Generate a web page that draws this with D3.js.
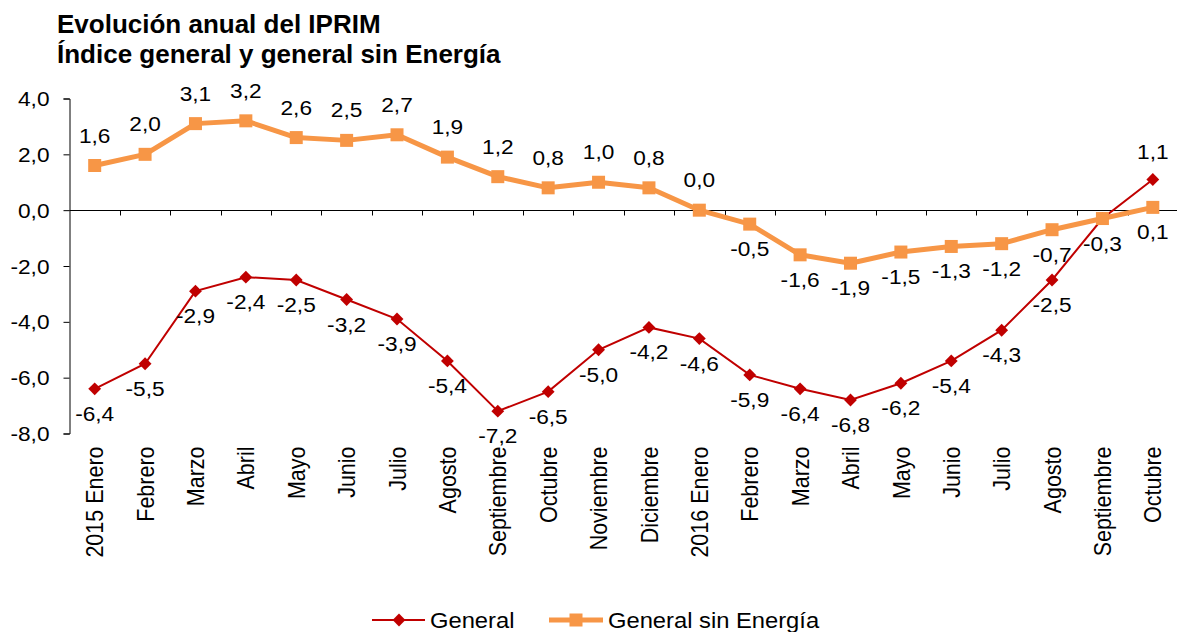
<!DOCTYPE html>
<html>
<head>
<meta charset="utf-8">
<script src="https://cdn.jsdelivr.net/npm/d3@7"></script>
<style>
  body { margin: 0; background: #fff; }
  svg { display: block; font-family: Arial, "Liberation Sans", sans-serif; }
</style>
</head>
<body>
<svg id="chart" width="1177" height="632"></svg>
<script>
const categories = ['2015 Enero', 'Febrero', 'Marzo', 'Abril', 'Mayo', 'Junio', 'Julio', 'Agosto',
  'Septiembre', 'Octubre', 'Noviembre', 'Diciembre', '2016 Enero', 'Febrero', 'Marzo', 'Abril',
  'Mayo', 'Junio', 'Julio', 'Agosto', 'Septiembre', 'Octubre'];
const general = [-6.4, -5.5, -2.9, -2.4, -2.5, -3.2, -3.9, -5.4, -7.2, -6.5, -5.0, -4.2,
  -4.6, -5.9, -6.4, -6.8, -6.2, -5.4, -4.3, -2.5, -0.3, 1.1];
const sinEnergia = [1.6, 2.0, 3.1, 3.2, 2.6, 2.5, 2.7, 1.9, 1.2, 0.8, 1.0, 0.8,
  0.0, -0.5, -1.6, -1.9, -1.5, -1.3, -1.2, -0.7, -0.3, 0.1];
const yTicks = [-8, -6, -4, -2, 0, 2, 4];
const titleLines = ['Evolución anual del IPRIM', 'Índice general y general sin Energía'];

const red = '#c00000', orange = '#f79646';
const fmt = d3.formatLocale({decimal: ',', thousands: '.', grouping: [3], currency: ['', '€'], minus: '-'}).format('.1f');

const svg = d3.select('#chart');
const plotLeft = 69.5, plotRight = 1178, plotTop = 98.5, plotBottom = 433.5;
const stretch = 1.08; // text in the original is a little wider than plain Arial

const x = d3.scaleBand().domain(d3.range(categories.length)).range([plotLeft, plotRight]);
const y = d3.scaleLinear().domain([-8, 4]).range([plotBottom, plotTop]);
const cx = i => x(i) + x.bandwidth() / 2;

// Title
svg.append('g').selectAll('text').data(titleLines).enter().append('text')
  .attr('transform', (d, i) => `translate(57,${33 + i * 30}) scale(1.04,1)`)
  .attr('font-size', 25).attr('font-weight', 'bold').text(d => d);

// Y axis
const yAxis = svg.append('g')
  .attr('transform', `translate(${plotLeft},0)`)
  .call(d3.axisLeft(y).tickValues(yTicks).tickSize(6).tickFormat(fmt));
yAxis.selectAll('text')
  .attr('font-size', 21).attr('fill', '#000')
  .attr('x', null).attr('dy', null)
  .attr('transform', `translate(-20,7) scale(${stretch},1)`);
yAxis.select('.domain').attr('stroke', '#000');
yAxis.selectAll('line').attr('stroke', '#000');

// Zero line with tick marks at the category boundaries
const zeroAxis = svg.append('g').attr('transform', `translate(0,${Math.round(y(0)) + 0.5})`);
zeroAxis.append('line').attr('x1', plotLeft).attr('x2', plotRight).attr('stroke', '#000');
zeroAxis.selectAll('line.tick').data(d3.range(1, categories.length)).enter().append('line')
  .attr('class', 'tick')
  .attr('x1', i => Math.round(x(i)) + 0.5).attr('x2', i => Math.round(x(i)) + 0.5)
  .attr('y1', 0).attr('y2', 5).attr('stroke', '#000');

// Category labels
const xAxis = svg.append('g')
  .attr('transform', `translate(0,${plotBottom + 13})`)
  .call(d3.axisBottom(x).tickSize(0).tickFormat(i => categories[i]));
xAxis.select('.domain').remove();
xAxis.selectAll('text')
  .attr('font-size', 21.5).attr('fill', '#000')
  .attr('text-anchor', 'end')
  .attr('y', null).attr('dy', null)
  .attr('transform', `scale(${stretch},1) rotate(-90) translate(0,8)`);

// Lines
const line = d3.line().x((d, i) => cx(i)).y(d => y(d));

svg.append('path').datum(sinEnergia)
  .attr('d', line).attr('fill', 'none').attr('stroke', orange).attr('stroke-width', 5)
  .attr('stroke-linejoin', 'round');
svg.append('path').datum(general)
  .attr('d', line).attr('fill', 'none').attr('stroke', red).attr('stroke-width', 2);

// Markers
const diamond = d3.symbol().type(d3.symbolDiamond2).size(105);
svg.append('g').selectAll('path').data(general).enter().append('path')
  .attr('d', diamond).attr('fill', red)
  .attr('transform', (d, i) => `translate(${cx(i)},${y(d)})`);

svg.append('g').selectAll('rect').data(sinEnergia).enter().append('rect')
  .attr('x', (d, i) => cx(i) - 6.5).attr('y', d => y(d) - 6.5)
  .attr('width', 13).attr('height', 13).attr('fill', orange);

// Data labels
const labelAt = (sel, px, py) => sel
  .attr('transform', (d, i) => `translate(${px(d, i)},${py(d, i)}) scale(${stretch},1)`)
  .text(d => fmt(d));
const labels = svg.append('g').attr('font-size', 21).attr('text-anchor', 'middle').attr('fill', '#000');
labelAt(labels.selectAll('text.g').data(general).enter().append('text').attr('class', 'g'),
  (d, i) => cx(i),
  (d, i) => i === categories.length - 1 ? y(d) - 20 : y(d) + 32);
// where both series share a value the two labels sit on top of each other: draw it once
const sinIdx = d3.range(sinEnergia.length).filter(i => !(i >= 13 && sinEnergia[i] === general[i]));
labelAt(labels.selectAll('text.s').data(sinIdx.map(i => sinEnergia[i])).enter().append('text').attr('class', 's'),
  (d, k) => cx(sinIdx[k]),
  (d, k) => sinIdx[k] < 13 ? y(d) - 23 : y(d) + 32);

// Legend
const legend = svg.append('g').attr('transform', 'translate(0,620)');
legend.append('line').attr('x1', 372).attr('x2', 425).attr('stroke', red).attr('stroke-width', 2);
legend.append('path').attr('d', diamond).attr('fill', red).attr('transform', 'translate(399,0)');
legend.append('text').attr('transform', `translate(430,8) scale(${stretch},1)`).attr('font-size', 22).text('General');
legend.append('line').attr('x1', 549).attr('x2', 603).attr('stroke', orange).attr('stroke-width', 5);
legend.append('rect').attr('x', 569.5).attr('y', -6.5).attr('width', 13).attr('height', 13).attr('fill', orange);
legend.append('text').attr('transform', `translate(608,8) scale(${stretch},1)`).attr('font-size', 22).text('General sin Energía');
</script>
</body>
</html>
